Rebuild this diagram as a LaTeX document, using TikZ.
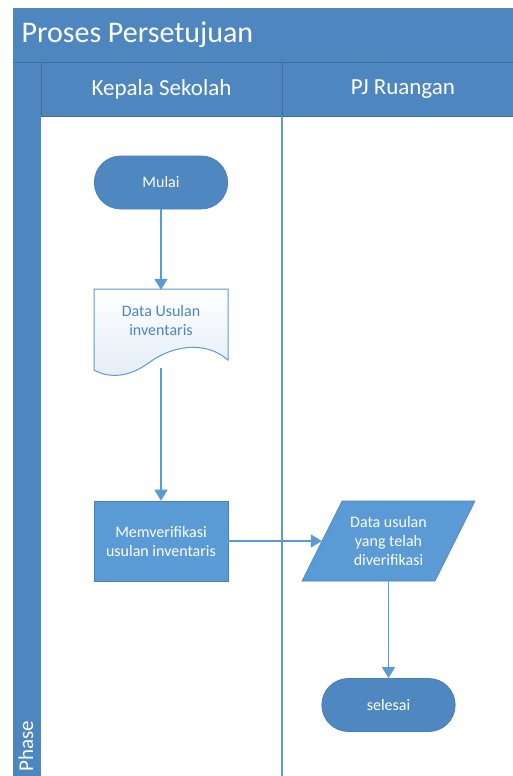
\documentclass[tikz,border=0pt]{standalone}
\usepackage{fontspec}
\setmainfont{Carlito}
\usetikzlibrary{arrows.meta,shapes.misc}

\definecolor{bandblue}{HTML}{4E86BF}
\definecolor{banddark}{HTML}{3E6E9E}
\definecolor{boxblue}{HTML}{5B9BD5}
\definecolor{boxedge}{HTML}{4A7EBB}
\definecolor{termblue}{HTML}{4F87C1}
\definecolor{flowblue}{HTML}{5B9BD5}
\definecolor{docfill}{HTML}{E3ECF6}
\definecolor{doctext}{HTML}{4A86C0}

\begin{document}
\begin{tikzpicture}[x=1pt,y=-1pt,
  flowline/.style={draw=flowblue, line width=1.5pt, -{Triangle[width=13pt,length=11pt]}},
  nodetext/.style={align=center, font=\fontsize{16}{19}\selectfont},
  terminal/.style={rounded rectangle, fill=termblue, draw=boxedge, line width=0.8pt,
    minimum width=140pt, minimum height=53pt, text=white, nodetext},
  process/.style={rectangle, fill=boxblue, draw=boxedge, line width=0.6pt,
    minimum width=134pt, minimum height=80pt, text=white, nodetext},
  hidden/.style={rectangle, inner sep=0pt, nodetext},
  headtext/.style={text=white, font=\fontsize{23}{27}\selectfont}
]
\useasboundingbox (0,0) rectangle (513,776);
\fill[white] (0,0) rectangle (513,776);

% pool and lane bands
\fill[bandblue] (13,8) rectangle (513,776);
\fill[white] (41,116) rectangle (513,776);
\draw[banddark, line width=0.8pt] (13,62) -- (513,62);
\draw[banddark, line width=0.8pt] (41,62) -- (41,116);
\draw[banddark, line width=0.6pt] (41,116) -- (513,116);
\draw[banddark, line width=0.8pt] (282,62) -- (282,116);
\draw[flowblue, line width=1.5pt] (282,116) -- (282,776);

\node[anchor=west, text=white, font=\fontsize{30}{34}\selectfont] (title) at (18,35) {Proses Persetujuan};
\node[headtext] (laneA) at (161.5,89) {Kepala Sekolah};
\node[headtext] (laneB) at (403,89) {PJ Ruangan};
\node[headtext, font=\fontsize{21}{25}\selectfont, rotate=90, anchor=west] (phase) at (26,775) {Phase};

% flow elements
\node[terminal] (mulai) at (161,182.5) {Mulai};

\shade[top color=white, bottom color=docfill] (94,289) -- (228,289) -- (228,360)
  .. controls (205,340) and (172,346) .. (150,362)
  .. controls (130,377) and (110,379) .. (94,370) -- cycle;
\draw[flowblue, line width=1pt] (94,289) -- (228,289) -- (228,360)
  .. controls (205,340) and (172,346) .. (150,362)
  .. controls (130,377) and (110,379) .. (94,370) -- cycle;
\node[hidden, minimum width=134pt, minimum height=78pt, text=doctext] (doc) at (161,329) {};
\node[text=doctext, nodetext] (doclabel) at (161,321) {Data Usulan\\inventaris};

\node[process] (verif) at (161,541) {Memverifikasi\\usulan inventaris};

\fill[boxblue] (302,581) -- (342,501) -- (475,501) -- (435,581) -- cycle;
\draw[boxedge, line width=0.6pt] (302,581) -- (342,501) -- (475,501) -- (435,581) -- cycle;
\node[hidden, minimum width=133pt, minimum height=80pt, text=white] (data) at (388.5,541) {Data usulan\\yang telah\\diverifikasi};

\node[terminal] (selesai) at (388.5,705) {selesai};

% connectors
\draw[flowline] (mulai.south) -- (doc.north);
\draw[flowline] (doc.south) -- (verif.north);
\draw[flowline] (verif.east) -- (data.west);
\draw[flowline] (data.south) -- (selesai.north);
\end{tikzpicture}
\end{document}
